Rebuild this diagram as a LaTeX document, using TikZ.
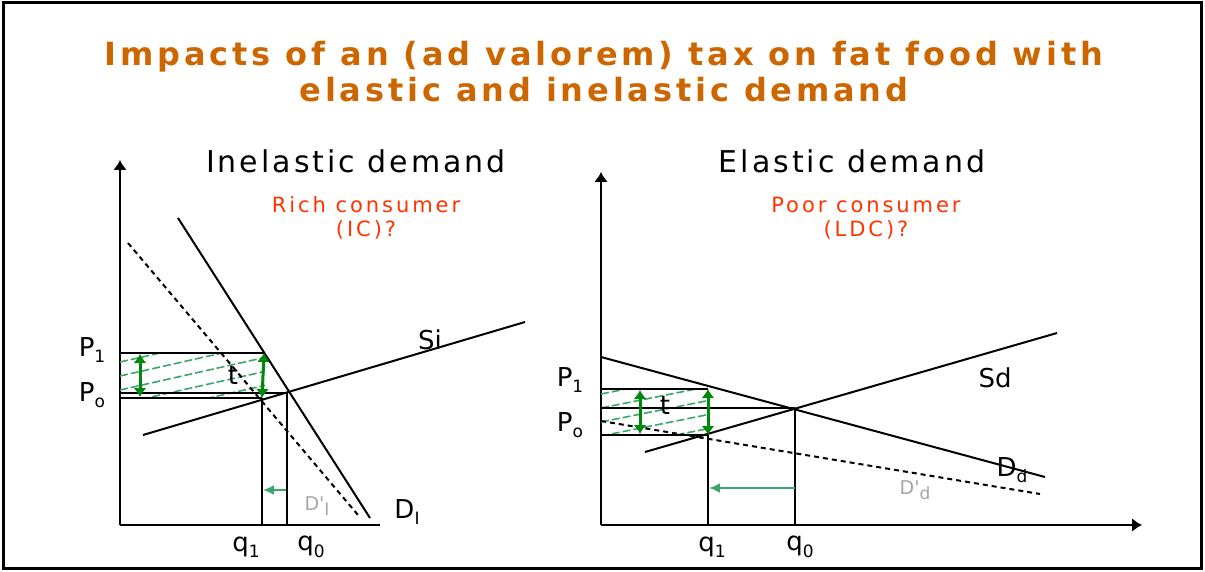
\documentclass[tikz,border=0pt]{standalone}
\usepackage{fontspec}
\setmainfont{DejaVu Sans}
\usetikzlibrary{arrows.meta}

\definecolor{titlebrown}{HTML}{CC6600}
\definecolor{consred}{HTML}{FF3300}
\definecolor{taxgreen}{HTML}{00880A}
\definecolor{hatchgreen}{HTML}{3AA66A}

\newcommand{\sub}[1]{\raisebox{-0.45ex}{\fontsize{17}{17}\selectfont #1}}

\begin{document}
\begin{tikzpicture}[x=1pt, y=-1pt,
  line/.style={draw, line width=2pt},
  dline/.style={draw, line width=2pt, dash pattern=on 5pt off 4pt},
  axis/.style={draw, line width=2.2pt, -{Latex[length=10pt,width=14pt]}},
  taxarrow/.style={draw, taxgreen, line width=3pt, {Latex[length=9pt,width=13pt]}-{Latex[length=9pt,width=13pt]}},
  shiftarrow/.style={draw, hatchgreen, line width=2pt, -{Latex[length=11pt,width=10pt]}},
  hatch/.style={draw, hatchgreen, line width=1.6pt, dash pattern=on 8pt off 3pt},
  lbl/.style={font=\fontsize{26}{26}\selectfont, inner sep=0pt},
  head/.style={font=\fontsize{30}{30}\selectfont\addfontfeature{LetterSpace=10}, inner sep=0pt},
  cons/.style={font=\fontsize{21}{24}\selectfont\addfontfeature{LetterSpace=14}, text=consred, align=center, inner sep=0pt}
]
\useasboundingbox (0,0) rectangle (1205,572);
\draw[line width=3pt] (3,3) rectangle (1201,568);

\node [font=\fontsize{32}{36}\selectfont\bfseries\addfontfeature{LetterSpace=12}, text=titlebrown, align=center] (title) at (604,72)
  {Impacts of an (ad valorem) tax on fat food with\\elastic and inelastic demand};

% inelastic demand (left)
\coordinate (oI) at (120,525);
\coordinate (yI) at (120,160);
\coordinate (xI) at (380,525);
\path [axis] (oI) -- (yI);
\draw [line width=2.2pt] (oI) -- (xI);

\begin{scope}
  \clip (120,353) rectangle (265,398);
  \foreach \y in {362,376,...,480}
    \path [hatch] (120,\y) -- ++(160,-36);
\end{scope}

\coordinate (DIa) at (178,218);
\coordinate (DIb) at (370,518);
\coordinate (DIpa) at (128,243);
\coordinate (DIpb) at (358,515);
\coordinate (SIa) at (143,435);
\coordinate (SIb) at (525,322);
\coordinate (eI) at (287,393);
\coordinate (pI1) at (264,353);
\coordinate (sI1) at (262,398);
\path [line] (DIa) -- (DIb);
\path [dline] (DIpa) -- (DIpb);
\path [line] (SIa) -- (SIb);
\path [line] (yI |- pI1) -- (pI1);
\path [line] (yI |- eI) -- (eI);
\path [line] (yI |- sI1) -- (sI1);
\path [line] (sI1) -- (sI1 |- oI);
\path [line] (eI) -- (eI |- oI);
\path [taxarrow] (140,354) -- (140,397);
\path [taxarrow] (pI1) -- (sI1);
\path [shiftarrow] (286,490) -- (263,490);

\node [head] (inel) at (356,161) {Inelastic demand};
\node [cons] (rich) at (366,218) {Rich consumer\\(IC)?};
\node [lbl] (PI1) at (92,350) {P\sub{1}};
\node [lbl] (PIo) at (92,395) {P\sub{o}};
\node [lbl] (tI) at (233,375) {t};
\node [lbl] (Si) at (430,340) {Si};
\node [lbl] (DIl) at (407,512) {D\sub{I}};
\node [lbl, text=gray!70, font=\fontsize{19}{19}\selectfont] (DIpl) at (317,506) {D\textquotesingle\sub{I}};
\node [lbl] (qI1) at (246,547) {q\sub{1}};
\node [lbl] (qI0) at (311,547) {q\sub{0}};

% elastic demand (right)
\coordinate (oE) at (601,525);
\coordinate (yE) at (601,172);
\coordinate (xE) at (1142,525);
\path [axis] (oE) -- (yE);
\path [axis] (oE) -- (xE);

\begin{scope}
  \clip (601,389) rectangle (708,435);
  \foreach \y in {394,408,...,490}
    \path [hatch] (601,\y) -- ++(160,-32);
\end{scope}

\coordinate (DEa) at (601,357);
\coordinate (DEb) at (1045,477);
\coordinate (DEpa) at (601,421);
\coordinate (DEpb) at (1040,494);
\coordinate (SEa) at (645,452);
\coordinate (SEb) at (1057,333);
\coordinate (eE) at (795,408);
\coordinate (pE1) at (708,389);
\coordinate (sE1) at (708,435);
\path [line] (DEa) -- (DEb);
\path [dline] (DEpa) -- (DEpb);
\path [line] (SEa) -- (SEb);
\path [line] (yE |- pE1) -- (pE1);
\path [line] (yE |- eE) -- (eE);
\path [line] (yE |- sE1) -- (sE1);
\path [line] (sE1) -- (sE1 |- oE);
\path [line] (eE) -- (eE |- oE);
\path [taxarrow] (640,390) -- (640,434);
\path [taxarrow] (pE1) -- (sE1);
\path [shiftarrow] (795,488) -- (709,488);

\node [head] (elas) at (852,161) {Elastic demand};
\node [cons] (poor) at (866,218) {Poor consumer\\(LDC)?};
\node [lbl] (PE1) at (570,380) {P\sub{1}};
\node [lbl] (PEo) at (570,425) {P\sub{o}};
\node [lbl] (tE) at (665,405) {t};
\node [lbl] (Sd) at (995,378) {Sd};
\node [lbl] (DEl) at (1012,470) {D\sub{d}};
\node [lbl, text=gray!70, font=\fontsize{19}{19}\selectfont] (DEpl) at (915,490) {D\textquotesingle\sub{d}};
\node [lbl] (qE1) at (712,547) {q\sub{1}};
\node [lbl] (qE0) at (800,547) {q\sub{0}};
\end{tikzpicture}
\end{document}
